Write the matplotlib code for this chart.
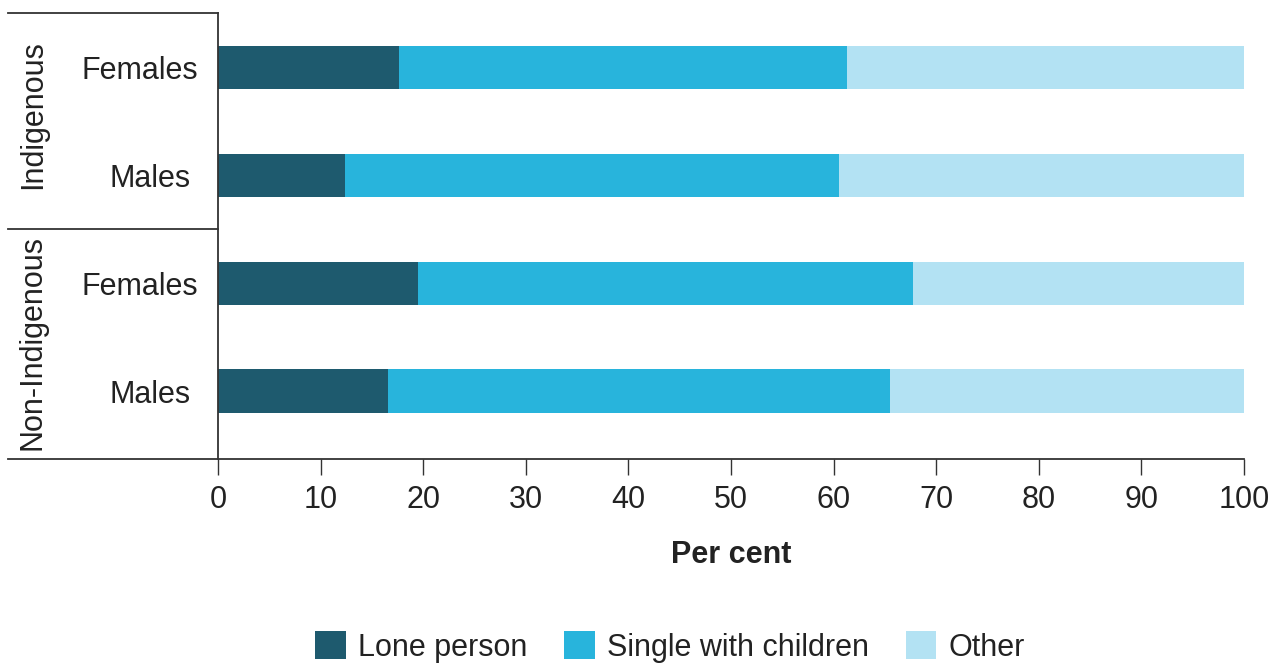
import matplotlib
matplotlib.use("Agg")
import matplotlib.pyplot as plt
from matplotlib.patches import Patch
from matplotlib.lines import Line2D

plt.rcParams['font.family'] = ['Liberation Sans', 'DejaVu Sans']

groups = ["Indigenous", "Non-Indigenous"]
rows = ["Females", "Males", "Females", "Males"]
series = ["Lone person", "Single with children", "Other"]
lone = [17.6, 12.4, 19.5, 16.6]
single = [43.7, 48.1, 48.2, 48.9]
other = [38.7, 39.5, 32.3, 34.5]
colors = ["#1e5a6e", "#28b4dc", "#b3e2f3"]

FS = 22
TC = "#222222"

fig = plt.figure(figsize=(12.74, 6.63), dpi=100)
ax = fig.add_axes([218/1274, 1-459/663, (1244-218)/1274, (459-13)/663])

ypos = [3, 2, 1, 0]
left = [0]*4
for vals, col, name in zip([lone, single, other], colors, series):
    ax.barh(ypos, vals, left=left, height=0.4, color=col, label=name, linewidth=0)
    left = [l + v for l, v in zip(left, vals)]

ax.set_xlim(0, 100)
ax.set_ylim(-0.63, 3.505)
ax.set_xticks(range(0, 101, 10))
ax.set_yticks([])
for s in ["top", "right", "bottom"]:
    ax.spines[s].set_visible(False)
ax.spines["left"].set_color("#333333")
ax.spines["left"].set_linewidth(1.3)
ax.tick_params(axis="x", direction="out", length=11.5, width=1.0, color="#333333",
               labelsize=FS, pad=7, labelcolor=TC)
ax.set_xlabel("Per cent", fontsize=FS, fontweight="bold", labelpad=18, color=TC)

lx = (8 - 218) / 1026
lc = "#333333"
tr = ax.get_yaxis_transform()
ax.add_line(Line2D([lx, 0], [1, 1], transform=ax.transAxes, color=lc, lw=1.3, clip_on=False))
ax.add_line(Line2D([lx, 0], [1.5, 1.5], transform=tr, color=lc, lw=1.3, clip_on=False))
ax.add_line(Line2D([lx, 1], [0, 0], transform=ax.transAxes, color=lc, lw=1.3, clip_on=False))

# row labels
offsets = {"Females": (198 - 218) / 1026, "Males": (191 - 218) / 1026}
for y, r in zip(ypos, rows):
    ax.text(offsets[r], y, r, transform=tr, ha="right", va="center_baseline", fontsize=FS, color=TC)

# group labels
gx = (33 - 218) / 1026
ax.text(gx, 2.56, groups[0], transform=tr, rotation=90, ha="center", va="center", fontsize=FS, color=TC)
ax.text(gx, 0.45, groups[1], transform=tr, rotation=90, ha="center", va="center", fontsize=FS, color=TC)

handles = [Patch(facecolor=c, edgecolor="none") for c in colors]
fig.legend(handles, series, loc="center", bbox_to_anchor=(670/1274, 1-647/663), ncol=3,
           frameon=False, fontsize=FS, handlelength=1.0, handleheight=1.0,
           handletextpad=0.4, columnspacing=1.2, labelcolor=TC)

fig.savefig("out.png", dpi=100)
